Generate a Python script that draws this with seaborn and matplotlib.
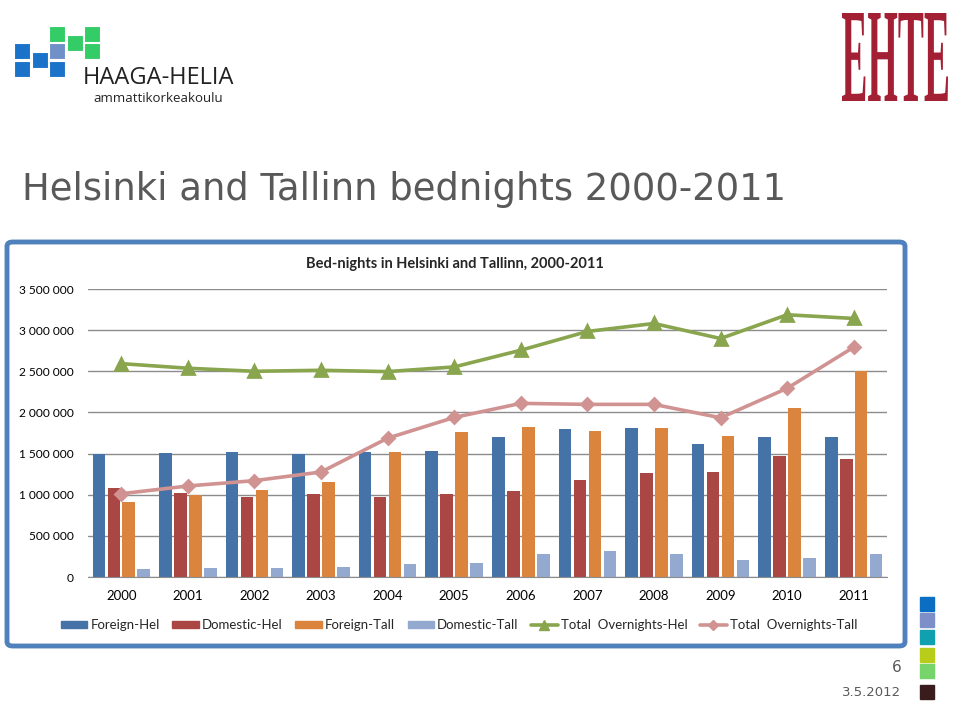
import matplotlib
matplotlib.use("Agg")
import matplotlib.pyplot as plt
import seaborn as sns
import pandas as pd
from matplotlib.patches import FancyBboxPatch, Rectangle, PathPatch
from matplotlib.textpath import TextPath
from matplotlib.font_manager import FontProperties
from matplotlib.transforms import Affine2D
from matplotlib.ticker import FuncFormatter, MultipleLocator
from matplotlib.lines import Line2D

sns.set_style('white')
plt.rcParams['font.family'] = ['Lato', 'DejaVu Sans']

# -----------------------------
# Data (bed-nights)
# -----------------------------
years = ['2000', '2001', '2002', '2003', '2004', '2005',
         '2006', '2007', '2008', '2009', '2010', '2011']
foreign_hel = [1500000, 1512000, 1516000, 1500000, 1524000, 1537000,
               1703000, 1797000, 1813000, 1618000, 1703000, 1699000]
domestic_hel = [1081000, 1016000, 976000, 1008000, 967000, 1012000,
                1045000, 1183000, 1264000, 1280000, 1472000, 1431000]
foreign_tall = [906000, 996000, 1053000, 1154000, 1524000, 1768000,
                1821000, 1772000, 1809000, 1711000, 2053000, 2500000]
domestic_tall = [98000, 106000, 110000, 122000, 154000, 167000,
                 285000, 317000, 276000, 207000, 232000, 280000]
total_hel = [2593000, 2537000, 2500000, 2512000, 2496000, 2553000,
             2756000, 2984000, 3081000, 2898000, 3187000, 3142000]
total_tall = [1012000, 1106000, 1171000, 1276000, 1687000, 1939000,
              2110000, 2098000, 2098000, 1935000, 2293000, 2793000]

bar_series = ['Foreign-Hel', 'Domestic-Hel', 'Foreign-Tall', 'Domestic-Tall']
bar_colors = ['#4572A7', '#AA4643', '#DB843D', '#93A9CF']
line_series = ['Total  Overnights-Hel', 'Total  Overnights-Tall']
line_colors = ['#89A54E', '#D19392']

W, H = 960, 704


def fx(x):
    return x / W


def fy(y):
    return 1 - y / H


# long table for the bars
bars = pd.DataFrame({'year': years * 4,
                     'value': foreign_hel + domestic_hel + foreign_tall + domestic_tall,
                     'series': sum([[s] * len(years) for s in bar_series], [])})

fig = plt.figure(figsize=(W / 100, H / 100), dpi=100)
fig.patch.set_facecolor('white')

# -----------------------------
# Chart
# -----------------------------
ax = fig.add_axes([fx(88), fy(577), fx(887) - fx(88), fy(289) - fy(577)])
sns.barplot(data=bars, x='year', y='value', hue='series', order=years,
            hue_order=bar_series, palette=bar_colors, width=0.9, gap=0.16,
            saturation=1, errorbar=None, legend=False, linewidth=0,
            ax=ax, zorder=2)
sns.pointplot(x=years, y=total_hel, order=years, color=line_colors[0],
              markers='^', errorbar=None, markersize=8, linewidth=2.6, ax=ax, zorder=4)
sns.pointplot(x=years, y=total_tall, order=years, color=line_colors[1],
              markers='D', errorbar=None, markersize=6.5, linewidth=2.6, ax=ax, zorder=4)

ax.set_ylim(0, 3500000)
ax.set_xlim(-0.5, len(years) - 0.5)
ax.yaxis.set_major_locator(MultipleLocator(500000))
ax.yaxis.set_major_formatter(FuncFormatter(lambda v, p: f"{int(v):,}".replace(',', ' ')))
ax.grid(axis='y', color='#8c8c8c', linewidth=1)
ax.set_axisbelow(True)
for side in ['top', 'right', 'left']:
    ax.spines[side].set_visible(False)
ax.spines['bottom'].set_color('#8c8c8c')
ax.tick_params(axis='both', length=0, colors='black')
ax.tick_params(axis='y', pad=10, labelsize=8.6)
ax.tick_params(axis='x', pad=9, labelsize=9.5)
ax.set_xlabel('')
ax.set_ylabel('')

fig.text(fx(455), fy(264), 'Bed-nights in Helsinki and Tallinn, 2000-2011',
         ha='center', va='center', fontsize=10.5, fontweight='bold')

# legend
handles = [Rectangle((0, 0), 1, 1, color=c) for c in bar_colors]
handles += [Line2D([], [], color=line_colors[0], marker='^', lw=2.6, ms=7),
            Line2D([], [], color=line_colors[1], marker='D', lw=2.6, ms=5.5)]
fig.legend(handles, bar_series + line_series, loc='center',
           bbox_to_anchor=(fx(459), fy(625)), ncol=6, frameon=False,
           fontsize=9.5, handlelength=2.0, handleheight=0.5,
           columnspacing=0.95, handletextpad=0.25)

# blue frame around the chart
fig.add_artist(FancyBboxPatch((fx(7), fy(646)), fx(905) - fx(7), fy(242) - fy(646),
                              boxstyle='round,pad=0,rounding_size=0.006',
                              transform=fig.transFigure, facecolor='none',
                              edgecolor='#4F81BD', linewidth=3.5))

# -----------------------------
# Slide decorations
# -----------------------------
fig.text(fx(22), fy(190), 'Helsinki and Tallinn bednights 2000-2011',
         ha='left', va='center', fontsize=26.6, color='#595959',
         family=['DejaVu Sans'])

# HAAGA-HELIA logo squares (x, y, colour)
logo = [(14, 43, '#1A73C9'), (14, 61, '#1A73C9'), (32, 52, '#1A73C9'),
        (49, 61, '#1A73C9'), (49, 43, '#7090C8'), (49, 26, '#33CC66'),
        (67, 35, '#33CC66'), (84, 26, '#33CC66'), (84, 43, '#33CC66')]
for x, y, c in logo:
    fig.add_artist(Rectangle((fx(x), fy(y + 16)), 16 / W, 16 / H,
                             transform=fig.transFigure, facecolor=c,
                             edgecolor='white', linewidth=0.8))
fig.text(fx(83), fy(78), 'HAAGA-HELIA', ha='left', va='center',
         fontsize=17, color='#222222', family=['Open Sans', 'DejaVu Sans'])
fig.text(fx(93), fy(98), 'ammattikorkeakoulu', ha='left', va='center',
         fontsize=9.5, color='#222222', family=['Open Sans', 'DejaVu Sans'])

# EHTE logo as a stretched serif text path
tp = TextPath((0, 0), 'EHTE', size=100,
              prop=FontProperties(family='Liberation Serif', weight='bold'))
bb = tp.get_extents()
sx = 106 / bb.width
sy = 88 / bb.height
tr = Affine2D().translate(-bb.x0, -bb.y0).scale(sx, sy).translate(842, H - 101)
fig.add_artist(PathPatch(tr.transform_path(tp), facecolor='#A31F34',
                         edgecolor='none', transform=None))

# coloured squares at the right edge
side_squares = [(597, '#0A6FC2'), (613, '#7D8FC8'), (630, '#11A0B0'),
                (648, '#B8CC1A'), (664, '#77D46A'), (685, '#3B1C1C')]
for y, c in side_squares:
    fig.add_artist(Rectangle((fx(920), fy(y + 14)), 14 / W, 14 / H,
                             transform=fig.transFigure, color=c))

fig.text(fx(902), fy(668), '6', ha='right', va='center', fontsize=11, color='#595959',
         family=['DejaVu Sans'])
fig.text(fx(901), fy(693), '3.5.2012', ha='right', va='center', fontsize=9.5,
         color='#595959', family=['DejaVu Sans'])

fig.savefig('out.png', dpi=100)
